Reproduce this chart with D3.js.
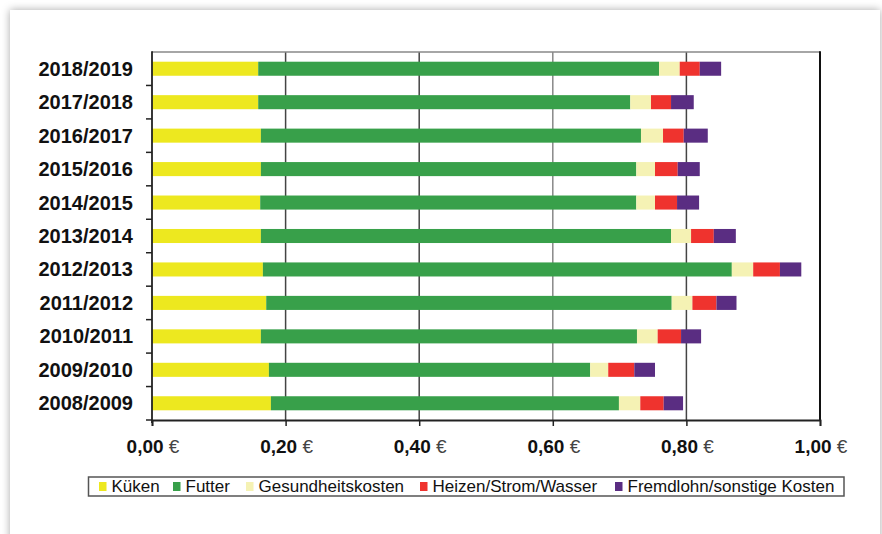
<!DOCTYPE html>
<html>
<head>
<meta charset="utf-8">
<script src="https://cdn.jsdelivr.net/npm/d3@7"></script>
<style>
  body { margin: 0; background: #fff; }
  svg { display: block; font-family: "Liberation Sans", Arial, sans-serif; }
</style>
</head>
<body>
<script>
// data (top row first)
var years = ['2018/2019', '2017/2018', '2016/2017', '2015/2016', '2014/2015', '2013/2014',
             '2012/2013', '2011/2012', '2010/2011', '2009/2010', '2008/2009'];
var series = ['Küken', 'Futter', 'Gesundheitskosten', 'Heizen/Strom/Wasser', 'Fremdlohn/sonstige Kosten'];
var kueken    = [0.159, 0.159, 0.163, 0.163, 0.162, 0.163, 0.166, 0.171, 0.163, 0.175, 0.178];
var futter    = [0.600, 0.557, 0.569, 0.562, 0.563, 0.614, 0.702, 0.607, 0.563, 0.481, 0.521];
var gesund    = [0.031, 0.031, 0.033, 0.028, 0.028, 0.030, 0.032, 0.031, 0.031, 0.027, 0.032];
var heizen    = [0.030, 0.030, 0.031, 0.034, 0.033, 0.034, 0.040, 0.036, 0.035, 0.039, 0.035];
var fremdlohn = [0.032, 0.034, 0.036, 0.033, 0.033, 0.033, 0.032, 0.030, 0.030, 0.031, 0.029];
var xTicks = [0, 0.2, 0.4, 0.6, 0.8, 1.0];
var colors = ['#ede81f', '#38a04a', '#f5f2b4', '#ef332e', '#5a2d82'];

var width = 882, height = 534;
var margin = { left: 152, right: 62, top: 52, bottom: 114 };
var legendX = [99, 173, 246, 420, 615]; // swatch positions in the legend box

var table = years.map(function (y, i) {
  return { year: y, 'Küken': kueken[i], 'Futter': futter[i], 'Gesundheitskosten': gesund[i],
           'Heizen/Strom/Wasser': heizen[i], 'Fremdlohn/sonstige Kosten': fremdlohn[i] };
});
var stacked = d3.stack().keys(series)(table);

var x = d3.scaleLinear().domain([0, 1]).range([margin.left, width - margin.right]);
var y = d3.scaleBand().domain(years).range([margin.top, height - margin.bottom]).paddingInner(0.58).paddingOuter(0.29);
var yb = d3.scaleBand().domain(years).range([margin.top, height - margin.bottom]); // full bands for ticks

var svg = d3.select('body').append('svg').attr('width', width).attr('height', height);

var defs = svg.append('defs');
var f = defs.append('filter').attr('id', 'sh').attr('x', '-5%').attr('y', '-5%').attr('width', '110%').attr('height', '110%');
f.append('feDropShadow').attr('dx', 0).attr('dy', 0).attr('stdDeviation', 4)
  .attr('flood-color', '#000').attr('flood-opacity', 0.35);

// card
svg.append('rect').attr('x', 10).attr('y', 10).attr('width', 870).attr('height', 560)
  .attr('fill', '#fff').attr('filter', 'url(#sh)');

// grid lines
svg.append('g').selectAll('line').data(xTicks.slice(1, 5)).join('line')
  .attr('x1', function (d) { return x(d); }).attr('x2', function (d) { return x(d); })
  .attr('y1', margin.top).attr('y2', height - margin.bottom)
  .attr('stroke', function (d, i) { return i == 2 ? '#888' : '#444'; })
  .attr('stroke-width', 1.5);

// frame top / right
svg.append('line').attr('x1', x(0)).attr('x2', x(1)).attr('y1', margin.top).attr('y2', margin.top)
  .attr('stroke', '#888').attr('stroke-width', 1.5);
svg.append('line').attr('x1', x(1)).attr('x2', x(1)).attr('y1', margin.top - 0.7).attr('y2', height - margin.bottom)
  .attr('stroke', '#111').attr('stroke-width', 2);

// bars
svg.append('g').selectAll('g').data(stacked).join('g')
  .attr('fill', function (d, i) { return colors[i]; })
  .selectAll('rect').data(function (d) { return d; }).join('rect')
  .attr('x', function (d) { return x(d[0]); })
  .attr('width', function (d) { return x(d[1]) - x(d[0]); })
  .attr('y', function (d) { return y(d.data.year); })
  .attr('height', y.bandwidth());

// y axis
var yAxis = svg.append('g');
yAxis.append('line').attr('x1', x(0)).attr('x2', x(0)).attr('y1', margin.top - 0.7).attr('y2', height - margin.bottom + 3)
  .attr('stroke', '#222').attr('stroke-width', 1.8);
var bounds = years.map(function (d) { return yb(d); }).concat([height - margin.bottom]);
yAxis.selectAll('line.t').data(bounds.slice(1)).join('line').attr('class', 't')
  .attr('x1', x(0) - 6).attr('x2', x(0)).attr('y1', function (d) { return d; }).attr('y2', function (d) { return d; })
  .attr('stroke', '#222').attr('stroke-width', 1.5);
yAxis.selectAll('text').data(years).join('text')
  .attr('x', 133).attr('y', function (d) { return yb(d) + yb.bandwidth() / 2 + 7; })
  .attr('text-anchor', 'end').attr('font-size', 20).attr('font-weight', 'bold').attr('fill', '#111')
  .text(function (d) { return d; });

// x axis
var xAxis = d3.axisBottom(x).tickValues(xTicks).tickSize(6).tickFormat('');
var gx = svg.append('g').attr('transform', 'translate(0,' + (height - margin.bottom) + ')').call(xAxis);
gx.select('.domain').attr('stroke', '#222').attr('stroke-width', 1.8);
gx.selectAll('.tick line').attr('stroke', '#222').attr('stroke-width', 1.5);
var lbl = svg.append('g').selectAll('text').data(xTicks).join('text')
  .attr('x', function (d) { return x(d) + 1; }).attr('y', 453)
  .attr('text-anchor', 'middle').attr('font-size', 19).attr('fill', '#111');
lbl.append('tspan').attr('font-weight', 'bold').text(function (d) { return d3.format('.2f')(d).replace('.', ','); });
lbl.append('tspan').attr('font-weight', 'normal').attr('fill', '#444').text('\u00a0€');

// legend
var lg = svg.append('g');
lg.append('rect').attr('x', 88.5).attr('y', 477).attr('width', 755.5).attr('height', 19)
  .attr('fill', '#fff').attr('stroke', '#555').attr('stroke-width', 1.5);
var items = lg.selectAll('g').data(series).join('g')
  .attr('transform', function (d, i) { return 'translate(' + legendX[i] + ',0)'; });
items.append('rect').attr('y', 482).attr('width', 7.5).attr('height', 9)
  .attr('fill', function (d, i) { return colors[i]; });
items.append('text').attr('x', 12.5).attr('y', 491.5).attr('font-size', 17).attr('fill', '#111')
  .text(function (d) { return d; });
</script>
</body>
</html>
